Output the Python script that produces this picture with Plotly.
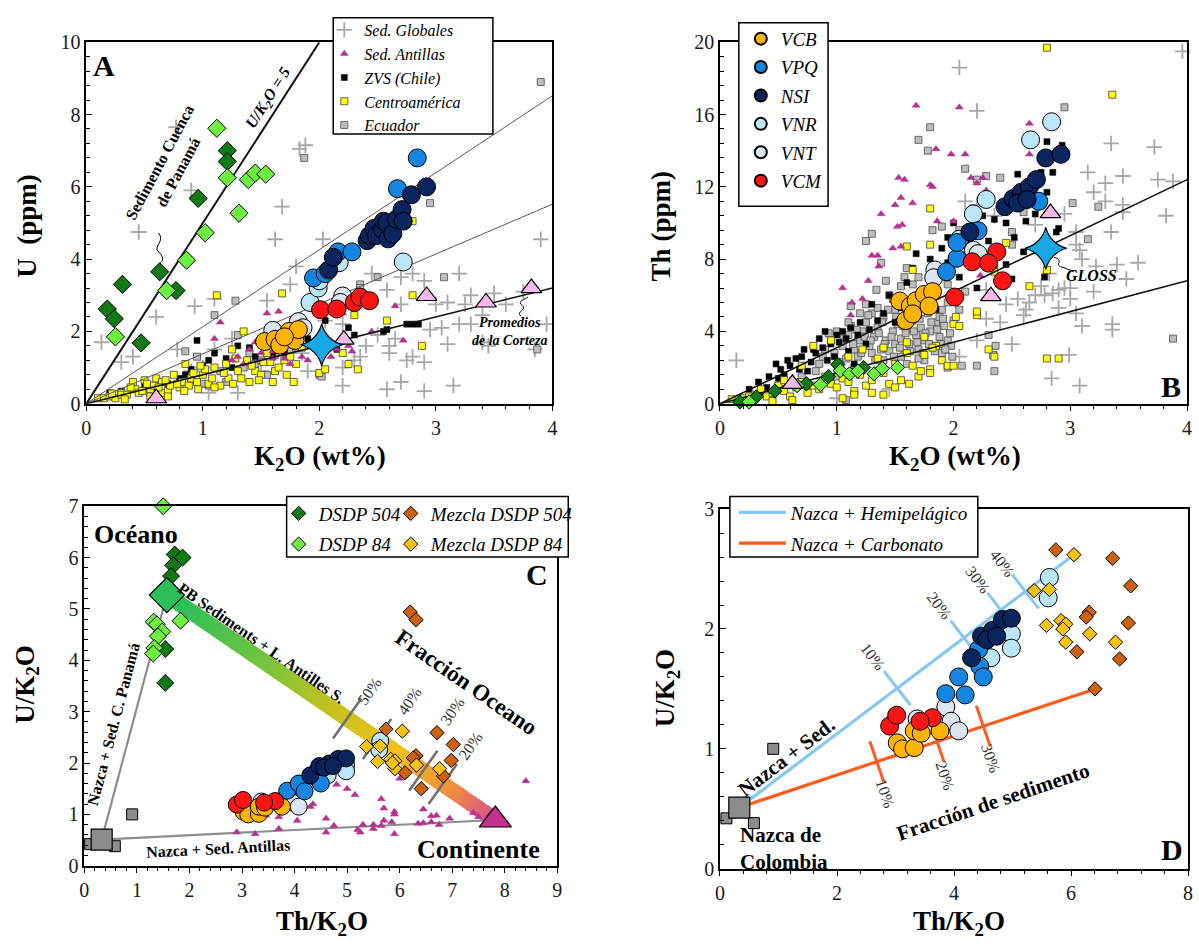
import numpy as np
import plotly.graph_objects as go

W, H = 1199, 949
SERIF = "Liberation Serif, Times New Roman, DejaVu Serif, serif"

# ---------------------------------------------------------------- data
# Panel A : K2O (wt%) vs U (ppm)
a_globales = [(0.13, 1.7), (0.3, 1.15), (0.4, 1.3), (0.45, 4.75), (0.6, 2.4), (0.77, 7.65), (0.78, 1.5),
              (0.93, 2.7), (0.9, 5.9), (1.0, 1.0), (1.1, 2.9), (1.05, 0.3), (1.3, 0.3), (1.5, 0.9), (1.55, 2.85),
              (1.62, 4.55), (1.68, 5.45), (1.75, 3.3), (1.8, 3.8), (1.83, 7.05), (1.88, 7.15), (1.85, 1.4),
              (1.9, 0.9), (2.03, 4.55), (2.05, 2.3), (2.2, 2.2), (2.2, 0.5), (2.3, 1.2), (2.4, 1.6), (2.45, 3.6),
              (2.5, 1.9), (2.58, 3.15), (2.58, 0.4), (2.6, 1.4), (2.6, 1.6), (2.7, 3.5), (2.7, 2.75), (2.7, 0.6),
              (2.75, 1.2), (2.8, 3.6), (2.8, 1.3), (2.9, 3.4), (2.9, 1.15), (2.9, 0.35), (3.0, 2.75), (3.1, 2.8),
              (3.1, 1.65), (3.15, 0.5), (3.2, 3.6), (3.2, 2.2), (3.25, 2.75), (3.3, 3.0), (3.3, 2.2), (3.4, 2.45),
              (3.4, 1.7), (3.45, 1.6), (3.5, 3.05), (3.6, 2.75), (3.75, 3.1), (3.85, 1.5), (3.9, 4.55), (3.95, 2.2),
              (1.1, 1.5), (1.25, 1.8), (0.9, 0.9), (2.95, 2.05), (3.05, 2.1), (2.65, 1.8), (2.2, 1.0), (2.35, 1.3)]
a_antillas = [(1.1, 1.8), (1.15, 2.25), (1.25, 1.2), (1.3, 1.3), (1.35, 1.1), (1.4, 1.5), (1.45, 1.7), (1.5, 1.4),
              (1.55, 2.5), (1.6, 1.45), (1.6, 1.25), (1.65, 2.55), (1.7, 1.25), (1.72, 1.6), (1.75, 1.1), (1.8, 1.7),
              (1.85, 1.3), (1.9, 1.2), (1.95, 1.6), (2.05, 1.8), (2.05, 1.9), (2.1, 1.3), (2.15, 1.5), (2.15, 2.85),
              (2.2, 2.5), (2.25, 1.6), (2.28, 1.45), (2.45, 2.0), (2.65, 2.7), (2.72, 1.75)]
a_zvs = [(0.2, 0.3), (0.3, 0.35), (0.5, 0.5), (0.6, 0.4), (0.7, 0.55), (0.8, 0.7), (0.85, 0.8), (0.9, 0.95),
         (0.95, 1.75), (1.0, 1.05), (1.05, 1.2), (1.1, 1.4), (1.2, 1.25), (1.25, 1.0), (1.3, 1.6), (1.4, 1.55),
         (1.45, 1.3), (1.55, 1.7), (1.6, 1.35), (1.7, 1.4), (1.9, 1.8), (2.05, 2.3), (2.15, 1.5), (2.25, 2.1),
         (2.3, 1.9), (2.55, 2.0), (2.58, 2.05), (2.75, 2.2), (2.8, 2.2), (2.85, 2.2)]
a_centro = [(0.1, 0.15), (0.15, 0.15), (0.2, 0.2), (0.25, 0.15), (0.3, 0.3), (0.3, 0.25), (0.35, 0.25), (0.4, 0.6),
            (0.42, 0.4), (0.45, 0.3), (0.5, 0.65), (0.55, 0.4), (0.55, 0.2), (0.58, 0.5), (0.6, 0.7), (0.65, 0.6),
            (0.65, 0.3), (0.7, 0.35), (0.72, 0.5), (0.75, 0.8), (0.8, 0.45), (0.82, 0.6), (0.85, 1.1), (0.88, 0.5),
            (0.9, 0.7), (0.92, 0.85), (0.95, 0.6), (1.0, 0.8), (1.02, 0.95), (1.05, 0.55), (1.08, 0.7), (1.1, 1.0),
            (1.12, 3.0), (1.15, 0.5), (1.2, 1.1), (1.22, 0.7), (1.25, 1.5), (1.3, 0.9), (1.35, 2.0), (1.38, 1.2),
            (1.4, 0.6), (1.45, 0.9), (1.5, 0.8), (1.55, 1.4), (1.6, 0.6), (1.62, 0.9), (1.68, 3.05), (1.7, 1.2),
            (1.72, 0.8), (1.78, 0.6), (1.8, 1.1), (1.85, 1.55), (2.0, 0.85), (2.05, 0.95), (2.2, 1.4), (2.25, 1.1),
            (2.3, 2.45), (2.33, 0.95), (2.58, 2.3), (2.8, 5.05), (2.8, 3.0), (2.88, 1.6), (0.38, 0.45), (0.48, 0.35),
            (0.68, 0.65), (0.78, 0.55), (0.98, 1.05), (1.18, 0.85), (1.28, 1.25), (1.42, 1.05), (1.52, 1.15),
            (1.65, 1.0), (1.75, 1.3), (1.1, 0.45), (0.62, 0.45), (0.22, 0.28), (0.33, 0.12), (0.52, 0.55),
            (0.7, 0.2), (0.84, 0.35), (0.96, 0.4), (1.26, 0.55), (1.33, 0.7), (1.48, 0.65), (1.58, 1.15)]
a_ecuador = [(0.55, 0.3), (0.85, 1.45), (0.9, 0.7), (0.95, 1.3), (1.0, 0.55), (1.05, 0.5), (1.1, 2.45), (1.15, 0.9),
             (1.2, 0.6), (1.28, 2.85), (1.3, 1.9), (1.35, 1.0), (1.4, 1.4), (1.45, 1.1), (1.5, 1.2), (1.55, 0.8),
             (1.62, 1.35), (1.7, 1.6), (1.75, 1.5), (1.8, 1.55), (1.87, 6.8), (2.0, 0.8), (2.02, 0.75), (2.35, 3.3),
             (2.35, 3.2), (2.5, 3.5), (2.95, 5.55), (3.07, 3.5), (3.87, 1.5), (3.9, 8.9)]
a_dsdp504 = [(0.18, 2.62), (0.24, 2.35), (0.31, 3.3), (0.47, 1.68), (0.63, 3.65), (0.77, 3.13), (0.96, 5.68),
             (1.21, 7.0), (1.21, 6.7)]
a_dsdp84 = [(0.25, 1.85), (0.69, 3.13), (0.86, 3.97), (1.02, 4.73), (1.12, 7.62), (1.21, 6.25), (1.31, 5.27),
            (1.39, 6.2), (1.45, 6.38), (1.54, 6.35)]
a_volc = {
    "VNT": [(1.6, 2.03), (1.82, 2.27), (1.86, 2.1), (2.2, 2.98), (2.18, 2.8)],
    "VNR": [(1.92, 2.8), (1.99, 3.2), (2.0, 3.4), (2.17, 3.9), (2.72, 3.92)],
    "VCB": [(1.53, 1.72), (1.62, 1.78), (1.66, 1.62), (1.74, 2.0), (1.79, 1.75), (1.82, 2.05), (1.7, 1.85)],
    "VPQ": [(1.95, 3.48), (2.05, 3.6), (2.16, 4.2), (2.28, 4.2), (2.67, 5.95), (2.84, 6.8)],
    "NSI": [(2.08, 3.7), (2.12, 4.05), (2.41, 4.51), (2.43, 4.65), (2.47, 4.85), (2.49, 4.65), (2.54, 4.83),
            (2.55, 5.05), (2.58, 5.0), (2.59, 4.56), (2.63, 4.7), (2.66, 5.1), (2.71, 5.37), (2.72, 5.05),
            (2.79, 5.78), (2.92, 6.0)],
    "VCM": [(2.01, 2.6), (2.15, 2.62), (2.3, 2.8), (2.35, 2.95), (2.43, 2.85)],
}
a_crust = [(0.6, 0.15), (2.21, 1.77), (2.92, 2.98), (3.43, 2.8), (3.82, 3.2)]
a_gloss = [(2.02, 1.63)]
a_ratios = [5.0, 2.13, 1.38, 0.8]          # U/K2O reference lines

# Panel B : K2O (wt%) vs Th (ppm)
b_globales = [(0.14, 2.4), (1.0, 0.3), (1.45, 0.8), (2.05, 18.6), (2.2, 16.2), (2.28, 6.3), (2.1, 11.2), (2.2, 11.0),
              (2.35, 10.4), (2.6, 4.9), (2.55, 5.8), (2.62, 5.2), (2.7, 6.0), (2.75, 6.5), (2.82, 7.2), (2.85, 6.1),
              (2.9, 5.3), (2.95, 6.4), (3.0, 6.4), (3.05, 5.0), (3.05, 9.5), (3.08, 8.5), (3.1, 4.3), (3.15, 12.8),
              (3.2, 11.7), (3.22, 7.6), (3.3, 12.2), (3.3, 11.2), (3.35, 14.4), (3.35, 9.5), (3.36, 4.1), (3.4, 7.7),
              (3.45, 12.6), (3.45, 10.6), (3.48, 6.9), (3.58, 7.8), (3.72, 14.2), (3.75, 12.4), (3.82, 10.4),
              (3.88, 12.3), (3.96, 19.5), (2.84, 1.4), (3.08, 1.0), (2.99, 2.7), (2.5, 3.3), (2.4, 4.5), (2.28, 4.7),
              (2.2, 3.5), (2.05, 2.6), (1.9, 2.8), (2.95, 10.5), (3.05, 8.8), (3.1, 8.0), (2.7, 9.9), (3.45, 11.0),
              (2.45, 5.5), (2.9, 6.3), (2.78, 6.0), (3.2, 6.2), (3.36, 4.4), (3.0, 5.8), (2.65, 5.6)]
b_antillas = [(1.05, 6.4), (1.12, 4.9), (1.13, 5.6), (1.22, 5.8), (1.27, 6.8), (1.3, 8.2), (1.36, 7.6), (1.35, 8.2),
              (1.38, 10.5), (1.48, 8.6), (1.5, 11.0), (1.53, 12.5), (1.55, 11.4), (1.52, 9.8), (1.56, 9.9),
              (1.58, 12.4), (1.55, 8.7), (1.65, 11.1), (1.68, 16.5), (1.8, 12.1), (1.82, 12.0), (1.85, 14.1),
              (1.86, 10.1), (1.98, 13.8), (2.05, 16.4), (2.1, 13.8), (2.15, 12.5), (2.2, 12.2), (2.25, 12.5),
              (2.28, 11.8), (2.65, 15.5), (2.65, 13.8), (2.23, 7.1), (2.0, 10.1)]
b_zvs = [(0.2, 0.3), (0.33, 1.2), (0.48, 2.2), (0.55, 1.6), (0.6, 2.1), (0.7, 2.6), (0.8, 3.0), (0.85, 3.6),
         (0.9, 4.0), (0.95, 3.3), (1.0, 3.8), (1.05, 4.0), (1.1, 2.9), (1.2, 4.5), (1.3, 5.5), (1.45, 6.0),
         (1.5, 4.5), (1.6, 6.7), (1.65, 7.5), (1.68, 8.3), (1.8, 8.0), (1.82, 7.2), (1.9, 8.6), (1.95, 9.2),
         (2.0, 10.0), (2.12, 9.0), (2.18, 8.1), (2.25, 10.4), (2.35, 10.2), (2.4, 8.3), (2.52, 9.2), (2.55, 12.7),
         (2.62, 10.1), (2.75, 12.8), (2.8, 11.7), (2.8, 14.5), (2.85, 12.8), (2.93, 14.3), (2.9, 9.7), (2.88, 9.5),
         (2.6, 8.4), (2.5, 6.9), (2.2, 6.4), (2.05, 7.0), (1.85, 5.2), (1.7, 4.9), (2.78, 7.0), (2.35, 7.5),
         (2.45, 7.7), (0.4, 0.9), (0.65, 2.5), (0.75, 1.8), (1.15, 2.2), (1.35, 4.6), (2.65, 11.4), (2.7, 10.5),
         (0.5, 1.4), (0.62, 1.0), (0.92, 2.4), (1.25, 3.3), (0.25, 0.8), (0.35, 0.6), (0.42, 1.5), (0.52, 1.9),
         (0.58, 2.4), (0.68, 1.9), (0.72, 3.0), (0.78, 2.3), (0.82, 2.8), (0.88, 3.1), (0.98, 2.6), (1.02, 3.4),
         (1.08, 3.6), (1.12, 4.2), (1.18, 3.8), (1.28, 4.1), (1.4, 5.0), (1.55, 5.3), (1.75, 6.2), (1.95, 7.8),
         (2.3, 9.0), (2.45, 10.0)]
b_centro = [(0.1, 0.25), (0.2, 0.3), (0.3, 0.5), (0.35, 0.8), (0.4, 0.4), (0.45, 0.6), (0.5, 1.0), (0.55, 0.7),
            (0.6, 0.4), (0.65, 0.9), (0.7, 1.2), (0.75, 0.6), (0.8, 1.0), (0.85, 0.8), (0.9, 1.5), (0.95, 1.1),
            (1.0, 0.9), (1.05, 1.4), (1.1, 1.2), (1.15, 0.7), (1.2, 1.6), (1.25, 1.0), (1.3, 1.3), (1.35, 2.5),
            (1.4, 1.7), (1.45, 1.1), (1.5, 2.2), (1.55, 1.3), (1.6, 2.8), (1.65, 2.1), (1.7, 1.5), (1.75, 2.7),
            (1.8, 1.9), (1.85, 3.2), (1.9, 2.4), (1.95, 2.1), (2.0, 2.1), (1.8, 1.7), (1.72, 1.8), (0.8, 3.2),
            (0.95, 3.5), (1.1, 2.6), (1.22, 3.0), (1.4, 3.1), (1.6, 3.4), (1.75, 3.7), (1.82, 3.1), (2.0, 4.4),
            (2.05, 4.3), (2.02, 4.8), (2.2, 4.9), (2.2, 5.1), (1.6, 8.7), (1.8, 8.8), (1.65, 7.4), (1.53, 5.5),
            (1.8, 10.8), (2.35, 7.3), (2.65, 6.5), (2.8, 7.4), (2.3, 3.0), (2.35, 2.6), (2.8, 2.5), (2.9, 2.5),
            (2.8, 19.7), (3.36, 17.1), (2.45, 8.9), (0.7, 2.1), (0.55, 1.3), (0.25, 0.4), (0.62, 0.2), (0.45, 0.15),
            (1.05, 0.3), (1.15, 0.5), (1.3, 0.6), (1.5, 0.9), (1.62, 1.1), (1.4, 0.5)]
b_ecuador = [(0.85, 2.2), (0.9, 3.0), (0.95, 3.5), (0.98, 2.8), (1.0, 4.0), (1.05, 3.2), (1.08, 2.5), (1.1, 3.8),
             (1.12, 4.3), (1.15, 3.0), (1.18, 2.6), (1.2, 3.5), (1.22, 4.0), (1.25, 4.5), (1.28, 3.2), (1.3, 2.8),
             (1.32, 3.7), (1.35, 4.2), (1.38, 3.0), (1.4, 4.8), (1.42, 3.5), (1.45, 2.9), (1.48, 4.0), (1.5, 3.3),
             (1.52, 4.4), (1.55, 3.6), (1.58, 2.8), (1.6, 4.1), (1.62, 3.3), (1.65, 4.6), (1.68, 3.8), (1.7, 3.0),
             (1.72, 4.2), (1.75, 3.5), (1.78, 5.0), (1.8, 4.0), (1.82, 3.2), (1.85, 4.5), (1.88, 3.7), (1.9, 5.2),
             (1.92, 4.3), (1.95, 3.5), (1.3, 5.0), (1.35, 5.3), (1.45, 6.0), (1.55, 6.5), (1.25, 5.5), (1.2, 5.0),
             (1.6, 7.5), (1.65, 6.6), (1.7, 7.0), (1.25, 9.0), (1.3, 9.4), (1.38, 7.8), (1.82, 9.6), (1.78, 14.0),
             (1.8, 15.3), (1.7, 14.6), (2.05, 9.6), (2.1, 13.0), (2.2, 12.4), (2.28, 12.6), (2.4, 12.5), (2.5, 8.8),
             (2.95, 16.4), (3.02, 11.1), (3.24, 10.9), (3.15, 9.1), (2.3, 3.8), (2.36, 3.2), (2.34, 2.7), (2.35, 1.8),
             (1.08, 0.2), (1.95, 2.0), (2.07, 2.1), (2.2, 2.1), (3.88, 3.6), (0.75, 1.0), (0.55, 0.8), (0.7, 1.5),
             (1.0, 1.5), (1.15, 2.0), (1.6, 2.2), (1.75, 2.4), (1.9, 2.8), (2.0, 4.6), (2.05, 5.2), (2.1, 6.2),
             (2.5, 9.5), (2.6, 10.6), (1.12, 5.4), (1.5, 5.2), (1.62, 5.6), (1.72, 5.4), (1.85, 6.0), (1.95, 6.6),
             (1.4, 2.4), (1.55, 2.6), (1.7, 2.5), (1.88, 4.8), (1.98, 3.2), (0.82, 1.8), (0.88, 2.6), (0.93, 3.9),
             (1.02, 2.3), (1.06, 3.6), (1.1, 4.5), (1.14, 3.3), (1.17, 4.1), (1.21, 2.8), (1.24, 3.7), (1.27, 4.9),
             (1.29, 3.5), (1.33, 2.4), (1.36, 3.9), (1.39, 4.5), (1.41, 3.3), (1.44, 5.2), (1.47, 3.7), (1.49, 2.6),
             (1.51, 4.8), (1.54, 3.1), (1.57, 4.3), (1.59, 3.9), (1.63, 2.9), (1.66, 4.0), (1.69, 3.4), (1.71, 4.7),
             (1.74, 2.8), (1.76, 3.9), (1.79, 3.3), (1.81, 4.5), (1.84, 2.9), (1.86, 4.1), (1.89, 3.3), (1.91, 4.7),
             (1.93, 3.0), (1.97, 3.9), (1.99, 2.6), (1.34, 6.3), (1.42, 6.8), (1.58, 7.0), (1.48, 5.8), (1.95, 5.6),
             (1.9, 9.8), (2.1, 8.2)]
b_dsdp504 = [(0.17, 0.1), (0.31, 0.38), (0.47, 0.7), (0.74, 1.1), (0.93, 1.5), (1.01, 2.17), (1.23, 2.0)]
b_dsdp84 = [(0.25, 0.1), (0.66, 1.0), (0.86, 1.05), (1.03, 1.83), (1.11, 1.65), (1.18, 1.8), (1.32, 1.65),
            (1.39, 1.95), (1.52, 2.0)]
b_volc = {
    "VNT": [(1.84, 7.4), (1.83, 6.97), (2.17, 8.49), (2.21, 8.3)],
    "VNR": [(2.17, 10.5), (2.28, 11.3), (2.66, 14.6), (2.84, 15.6), (2.05, 9.1)],
    "VCB": [(1.59, 4.6), (1.54, 5.68), (1.63, 5.4), (1.68, 5.7), (1.75, 6.05), (1.82, 6.2), (1.79, 5.4),
            (1.65, 4.97)],
    "VPQ": [(1.94, 7.3), (2.03, 8.05), (2.03, 8.92), (2.21, 9.57), (2.73, 11.2)],
    "NSI": [(2.14, 9.5), (2.44, 10.9), (2.51, 11.35), (2.58, 11.7), (2.65, 12.0), (2.71, 12.4), (2.55, 11.1),
            (2.79, 13.6), (2.92, 13.8), (2.63, 11.3)],
    "VCM": [(2.01, 5.9), (2.16, 7.85), (2.37, 8.4), (2.3, 7.78), (2.42, 6.8)],
}
b_crust = [(0.62, 1.1), (2.32, 5.95), (2.83, 10.55)]
b_gloss = [(2.79, 8.6)]
b_ratios = [3.1, 1.7]                        # Th/K2O reference lines

# Panels C and D : Th/K2O vs U/K2O
c_antillas = [(2.9, 0.65), (3.25, 0.62), (3.45, 0.98), (3.7, 0.72), (3.7, 0.95), (4.05, 0.88), (4.3, 1.15),
              (4.35, 1.2), (4.6, 0.92), (4.75, 0.78), (4.6, 0.65), (4.8, 1.58), (4.9, 1.85), (5.0, 1.5), (5.15, 1.38),
              (5.2, 0.7), (5.25, 0.65), (5.3, 0.8), (5.5, 0.72), (5.5, 0.8), (5.65, 1.3), (5.65, 0.78), (5.7, 1.12),
              (5.7, 0.88), (5.85, 0.85), (5.9, 1.05), (5.9, 1.0), (5.9, 0.62), (6.0, 1.7), (6.35, 0.82), (6.45, 1.1),
              (6.45, 0.83), (6.6, 0.85), (6.6, 0.97), (6.7, 0.98), (6.75, 0.8), (6.95, 0.92), (7.4, 1.03),
              (7.5, 0.95), (7.7, 0.98), (8.4, 1.65)]
c_dsdp504 = [(1.72, 6.06), (1.87, 6.0), (1.69, 5.85), (1.65, 5.64), (1.54, 4.22), (1.54, 3.56)]
c_dsdp84 = [(1.5, 7.0), (1.32, 4.75), (1.38, 4.7), (1.48, 4.56), (1.4, 4.47), (1.33, 4.24), (1.31, 4.13),
            (1.83, 4.77)]
mix504 = [(5.74, 2.66), (6.71, 2.59), (7.02, 2.36), (6.31, 2.14), (6.26, 2.1), (6.98, 2.05), (6.1, 1.81),
          (6.83, 1.75), (6.41, 1.5)]
mix504_high = [(6.2, 4.94), (6.31, 4.79)]    # off the D scale
mix84 = [(6.05, 2.62), (5.37, 2.32), (5.63, 2.33), (5.83, 2.07), (5.58, 2.03), (5.91, 2.04), (5.91, 1.89),
         (6.32, 1.96), (6.76, 1.89), (5.86, 2.0)]
cd_volc = {
    "VNT": [(3.37, 1.25), (3.86, 1.35), (3.95, 1.23), (4.08, 1.15)],
    "VNR": [(4.98, 1.96), (4.98, 1.84), (5.63, 2.43), (5.61, 2.26), (4.63, 1.76)],
    "VCM": [(2.9, 1.19), (3.02, 1.28), (3.63, 1.26), (3.42, 1.23)],
    "VCB": [(3.03, 1.05), (3.12, 1.0), (3.32, 1.01), (3.32, 1.15), (3.44, 1.13), (3.76, 1.15)],
    "VPQ": [(3.86, 1.46), (4.08, 1.6), (4.19, 1.45), (4.42, 1.83), (4.44, 1.69), (4.5, 1.6)],
    "NSI": [(4.3, 1.76), (4.47, 1.94), (4.66, 1.99), (4.83, 2.08), (4.98, 2.09), (4.56, 1.91), (4.73, 1.94)],
}
nazca_mean = (0.33, 0.51)
nazca_samples = [(0.11, 0.42), (0.58, 0.38), (0.91, 1.0)]
ocean_end = (1.57, 5.27)                     # PB sediments + Lesser Antilles mean
continent_end = (7.82, 0.89)
# mixing ticks: position on the Th/K2O axis, label, label anchor
c_pct = [(5.0, "50%", (5.42, 3.39)), (5.57, "40%", (6.18, 3.2)), (6.45, "30%", (7.0, 3.0)),
         (6.82, "20%", (7.34, 2.32))]
hemi_end = (6.05, 2.62)
carb_end = (6.41, 1.5)
d_hemi_pct = [(3.03, "10%", (2.61, 1.77)), (4.17, "20%", (3.75, 2.2)), (4.8, "30%", (4.4, 2.41)),
              (5.22, "40%", (4.83, 2.55))]
d_carb_pct = [(2.68, "10%", (2.83, 0.63)), (3.71, "20%", (3.85, 0.78)), (4.5, "30%", (4.63, 0.92))]

# ---------------------------------------------------------------- styling
COL = dict(glob="#A8A8A8", antillas="#B3338F", zvs="#000000", centro="#FFFF00", ecuador="#BDBDBD",
           d504="#0F7A14", d84="#6CF23E", m504="#CC6209", m84="#FFC20E",
           VCB="#FFB400", VPQ="#1585E2", NSI="#0A245E", VNR="#BCE7FA", VNT="#DCE6F2", VCM="#FF1414",
           crust="#F7B9E9", gloss="#17A9E6", nazca="#8C8C8C", hemi="#86C8F2", carb="#FF5B1F", tick="#707070")
VOLC_ORDER = ["VCB", "VPQ", "NSI", "VNR", "VNT", "VCM"]

# plot areas in pixels: left, right, top, bottom
BOX = {"A": (82, 552, 32, 402), "B": (721, 1192, 32, 402), "C": (80, 557, 507, 875), "D": (721, 1193, 510, 878)}
RNG = {"A": ((0, 4), (0, 10)), "B": ((0, 4), (0, 20)), "C": ((0, 9), (0, 7)), "D": ((0, 8), (0, 3))}
AX = {"A": ("x", "y"), "B": ("x2", "y2"), "C": ("x3", "y3"), "D": ("x4", "y4")}


def scale(p):
    l, r, t, b = BOX[p]
    (x0, x1), (y0, y1) = RNG[p]
    return (r - l) / (x1 - x0), (b - t) / (y1 - y0)


fig = go.Figure()


def cols(data):
    return [d[0] for d in data], [d[1] for d in data]


def markers(p, data, name, symbol, size, fill, edge="black", ew=1.0, legend=None, rank=1000):
    xs, ys = cols(data)
    xa, ya = AX[p]
    fig.add_trace(go.Scatter(
        x=xs, y=ys, xaxis=xa, yaxis=ya, mode="markers", name=name,
        marker=dict(symbol=symbol, size=size, color=fill, line=dict(color=edge, width=ew)),
        showlegend=legend is not None, legend=legend or "legend", legendrank=rank, legendgroup=name,
        cliponaxis=False, hoverinfo="skip"))


def segment(p, a, b, color, width, name=None, legend=None, rank=1000):
    xa, ya = AX[p]
    fig.add_trace(go.Scatter(
        x=[a[0], b[0]], y=[a[1], b[1]], xaxis=xa, yaxis=ya, mode="lines", name=name,
        line=dict(color=color, width=width), showlegend=legend is not None, legend=legend or "legend",
        legendrank=rank, legendgroup=name, cliponaxis=True, hoverinfo="skip"))


def ratio_line(p, slope, color, width):
    (x0, x1), (y0, y1) = RNG[p]
    xe = min(x1, y1 / slope)
    segment(p, (0, 0), (xe, slope * xe), color, width)


def background(p, glob, ant, zvs, cen, ecu, leg):
    markers(p, glob, "<i>Sed. Globales</i>", "cross-thin", 11, COL["glob"], COL["glob"], 1.8,
            legend=leg, rank=1)
    markers(p, ecu, "<i>Ecuador</i>", "square", 7, COL["ecuador"], "#4d4d4d", 0.8, legend=leg, rank=5)
    markers(p, zvs, "<i>ZVS (Chile)</i>", "square", 6, COL["zvs"], "#000000", 0.5, legend=leg, rank=3)
    markers(p, cen, "<i>Centroamérica</i>", "square", 7, COL["centro"], "#3d3d3d", 0.8, legend=leg, rank=4)
    markers(p, ant, "<i>Sed. Antillas</i>", "triangle-up", 7, COL["antillas"], COL["antillas"], 0.5,
            legend=leg, rank=2)


def volcanic(p, groups, size, leg=None):
    for key in ["VNT", "VNR", "VCB", "VPQ", "NSI", "VCM"]:
        markers(p, groups[key], f"<i>{key}</i>", "circle", size, COL[key], "black", 1.0,
                legend=leg, rank=VOLC_ORDER.index(key) + 1)


# ---- Panel A
background("A", a_globales, a_antillas, a_zvs, a_centro, a_ecuador, "legend")
ratio_line("A", a_ratios[1], "#5a5a5a", 1)
ratio_line("A", a_ratios[2], "#5a5a5a", 1)
ratio_line("A", a_ratios[3], "#111111", 1.6)
ratio_line("A", a_ratios[0], "#111111", 2)
markers("A", a_dsdp504, "DSDP 504 A", "diamond", 14, COL["d504"])
markers("A", a_dsdp84, "DSDP 84 A", "diamond", 14, COL["d84"])
volcanic("A", a_volc, 18)
markers("A", a_crust, "Corteza A", "triangle-up", 18, COL["crust"], "black", 1.2)
markers("A", a_gloss, "GLOSS A", "star-diamond", 30, COL["gloss"], "black", 1.2)

# ---- Panel B
background("B", b_globales, b_antillas, b_zvs, b_centro, b_ecuador, None)
for s in b_ratios:
    ratio_line("B", s, "#111111", 1.6)
markers("B", b_dsdp504, "<i>DSDP 504</i>", "diamond", 11, COL["d504"], legend="legend3", rank=1)
markers("B", b_dsdp84, "<i>DSDP 84</i>", "diamond", 11, COL["d84"], legend="legend3", rank=2)
volcanic("B", b_volc, 18, leg="legend2")
markers("B", b_crust, "Corteza B", "triangle-up", 18, COL["crust"], "black", 1.2)
markers("B", b_gloss, "GLOSS B", "star-diamond", 30, COL["gloss"], "black", 1.2)

# ---- Panel C
segment("C", nazca_mean, ocean_end, COL["nazca"], 2.2)
segment("C", nazca_mean, continent_end, COL["nazca"], 2.2)

# colour band between the oceanic and continental end-members
stops = [(0.0, (31, 191, 95)), (0.3, (118, 196, 62)), (0.5, (196, 194, 30)), (0.7, (242, 194, 26)),
         (0.86, (242, 145, 58)), (1.0, (214, 76, 150))]


def ramp(t):
    for (t0, c0), (t1, c1) in zip(stops[:-1], stops[1:]):
        if t <= t1:
            f = (t - t0) / (t1 - t0)
            return "rgb(%d,%d,%d)" % tuple(int(round(a + (b - a) * f)) for a, b in zip(c0, c1))
    return "rgb(%d,%d,%d)" % stops[-1][1]


o = np.array(ocean_end, float)
c = np.array(continent_end, float)
ts = np.linspace(0, 1, 81)
for t0, t1 in zip(ts[:-1], ts[1:]):
    segment("C", o + (c - o) * t0, o + (c - o) * min(1.0, t1 + 0.004), ramp((t0 + t1) / 2), 16)


def tick_geom(p, a, b, xc, half):
    sx, sy = scale(p)
    a = np.array(a, float)
    b = np.array(b, float)
    d = (b - a) * [sx, sy]
    u = d / np.hypot(*d)
    perp = np.array([-u[1], u[0]])
    t = (xc - a[0]) / (b[0] - a[0])
    ctr = a + (b - a) * t
    off = perp * half / [sx, sy]
    ang = np.degrees(np.arctan2(d[1], d[0]))
    return ctr, off, ang


annotations = []


def note(p, x, y, text, size, angle=0, color="black", xanchor="center", align="center"):
    xa, ya = AX[p]
    annotations.append(dict(x=x, y=y, xref=xa, yref=ya, text=text, showarrow=False, textangle=angle,
                            xanchor=xanchor, yanchor="middle", align=align,
                            font=dict(family=SERIF, size=size, color=color)))


for xc, lab, pos in c_pct:
    ctr, off, ang = tick_geom("C", ocean_end, continent_end, xc, 25)
    segment("C", ctr - off, ctr + off, COL["tick"], 2.6)
    note("C", pos[0], pos[1], lab, 16, angle=-(90 + ang), color="#333333")

markers("C", c_antillas, "Antillas C", "triangle-up", 7, COL["antillas"], COL["antillas"], 0.5)
volcanic("C", cd_volc, 17)
markers("C", mix504 + mix504_high, "<i>Mezcla DSDP 504</i>", "diamond", 11, COL["m504"])
markers("C", mix84, "<i>Mezcla DSDP 84</i>", "diamond", 11, COL["m84"])
markers("C", c_dsdp504, "DSDP 504 C", "diamond", 13, COL["d504"])
markers("C", c_dsdp84, "DSDP 84 C", "diamond", 13, COL["d84"])
markers("C", nazca_samples, "Nazca C", "square", 11, COL["nazca"], "black", 1)
markers("C", [nazca_mean], "Nazca media C", "square", 21, COL["nazca"], "black", 1.2)
markers("C", [ocean_end], "Océano", "diamond", 27, "#2DBE5C", "black", 1.2)
markers("C", [continent_end], "Continente", "triangle-up", 28, "#C2328F", "black", 1.2)

# ---- Panel D
segment("D", nazca_mean, hemi_end, COL["hemi"], 3.2, name="<i>Nazca + Hemipelágico</i>", legend="legend5", rank=1)
segment("D", nazca_mean, carb_end, COL["carb"], 3.2, name="<i>Nazca + Carbonato</i>", legend="legend5", rank=2)
for xc, lab, pos in d_hemi_pct:
    ctr, off, ang = tick_geom("D", nazca_mean, hemi_end, xc, 22)
    segment("D", ctr - off, ctr + off, COL["hemi"], 3)
    note("D", pos[0], pos[1], lab, 16, angle=90 - ang, color="#333333")
for xc, lab, pos in d_carb_pct:
    ctr, off, ang = tick_geom("D", nazca_mean, carb_end, xc, 22)
    segment("D", ctr - off, ctr + off, COL["carb"], 3)
    note("D", pos[0], pos[1], lab, 16, angle=90 - ang, color="#333333")
volcanic("D", cd_volc, 18)
markers("D", mix504, "<i>Mezcla DSDP 504</i>", "diamond", 11, COL["m504"], legend="legend4", rank=1)
markers("D", mix84, "<i>Mezcla DSDP 84</i>", "diamond", 11, COL["m84"], legend="legend4", rank=2)
markers("D", nazca_samples, "Nazca D", "square", 11, COL["nazca"], "black", 1)
markers("D", [nazca_mean], "Nazca media D", "square", 21, COL["nazca"], "black", 1.2)

# ---------------------------------------------------------------- text
sxA, syA = scale("A")
angA = np.degrees(np.arctan(a_ratios[0] * syA / sxA))
note("A", 0.15, 9.35, "<b>A</b>", 30)
note("A", 1.56, 8.45, "<b><i>U/K<sub>2</sub>O = 5</i></b>", 16, angle=-angA)
note("A", 0.71, 6.55, "<b>Sedimento Cuenca<br>de Panamá</b>", 16, angle=-62)
note("A", 3.63, 2.0, "<b><i>Promedios<br>de la Corteza</i></b>", 14)
note("B", 3.18, 7.1, "<b><i>GLOSS</i></b>", 16)
note("B", 3.86, 0.95, "<b>B</b>", 30)

_, _, angC = tick_geom("C", ocean_end, continent_end, 3.0, 1)
_, _, angN1 = tick_geom("C", nazca_mean, ocean_end, 1.0, 1)
_, _, angN2 = tick_geom("C", nazca_mean, continent_end, 3.0, 1)
note("C", 0.98, 6.45, "<b>Océano</b>", 26)
note("C", 8.62, 5.67, "<b>C</b>", 30)
note("C", 7.5, 0.32, "<b>Continente</b>", 26)
note("C", 7.27, 3.57, "<b>Fracción Oceano</b>", 23, angle=-angC)
note("C", 3.38, 4.33, "<b>PB Sediments + L. Antilles S.</b>", 16, angle=-angC)
note("C", 0.55, 2.75, "<b>Nazca + Sed. C. Panamá</b>", 16, angle=-angN1)
note("C", 2.55, 0.34, "<b>Nazca + Sed. Antillas</b>", 16, angle=-angN2)

_, _, angH = tick_geom("D", nazca_mean, hemi_end, 2.0, 1)
_, _, angK = tick_geom("D", nazca_mean, carb_end, 2.0, 1)
note("D", 1.14, 0.93, "<b>Nazca + Sed.</b>", 21, angle=-angH)
note("D", 4.66, 0.56, "<b>Fracción de sedimento</b>", 21, angle=-angK)
note("D", 0.3, 0.17, "<b>Nazca de<br>Colombia</b>", 21, xanchor="left", align="left")
note("D", 7.73, 0.16, "<b>D</b>", 30)


def title(xp, yp, text, angle=0):
    annotations.append(dict(x=xp / W, y=1 - yp / H, xref="paper", yref="paper", text=text, showarrow=False,
                            textangle=angle, xanchor="center", yanchor="middle",
                            font=dict(family=SERIF, size=27, color="black")))


title(22, 220, "<b>U  (ppm)</b>", -90)
title(318, 458, "<b>K<sub>2</sub>O (wt%)</b>")
title(661, 220, "<b>Th (ppm)</b>", -90)
title(958, 458, "<b>K<sub>2</sub>O (wt%)</b>")
title(22, 690, "<b>U/K<sub>2</sub>O</b>", -90)
title(320, 934, "<b>Th/K<sub>2</sub>O</b>")
title(668, 693, "<b>U/K<sub>2</sub>O</b>", -90)
title(962, 934, "<b>Th/K<sub>2</sub>O</b>")

# ---------------------------------------------------------------- leader curves and legend frames
shapes = [
    dict(type="path", xref="x", yref="y", path="M 0.62 4.72 C 0.68 4.5, 0.57 4.35, 0.62 4.2 S 0.66 3.95, 0.63 3.88",
         line=dict(color="black", width=1)),
    dict(type="path", xref="x", yref="y", path="M 3.73 2.42 C 3.68 2.55, 3.79 2.6, 3.74 2.72 S 3.77 2.88, 3.79 2.95",
         line=dict(color="black", width=1)),
    dict(type="path", xref="x2", yref="y2", path="M 2.86 8.1 C 2.96 7.95, 2.85 7.7, 2.93 7.55 S 3.0 7.35, 3.03 7.3",
         line=dict(color="black", width=1)),
]
for l, t, r, b in [(331, 7, 492, 126), (740, 12, 830, 200), (284, 497, 568, 559), (731, 497, 981, 559)]:
    shapes.append(dict(type="rect", xref="paper", yref="paper", x0=l / W, x1=r / W, y0=1 - b / H, y1=1 - t / H,
                       fillcolor="white", line=dict(color="black", width=1.5), layer="above"))


def legend_at(xp, yp, size, gap=0, itemwidth=30, sizing="trace"):
    return dict(x=xp / W, y=1 - yp / H, xanchor="left", yanchor="top", xref="paper", yref="paper",
                bgcolor="rgba(0,0,0,0)", borderwidth=0, font=dict(family=SERIF, size=size, color="black"),
                tracegroupgap=gap, itemwidth=itemwidth, itemsizing=sizing, orientation="v")


def axis(p, dtick, minor, ticks, anchor):
    l, r, t, b = BOX[p]
    return dict(range=list(RNG[p][0 if ticks == "outside" else 1]),
                domain=[l / W, r / W] if ticks == "outside" else [1 - b / H, 1 - t / H],
                dtick=dtick, tick0=0, ticks=ticks, ticklen=6, tickwidth=1.2, tickcolor="black",
                minor=dict(dtick=minor, tick0=0, ticks=ticks, ticklen=4, tickwidth=1, tickcolor="black"),
                showline=True, linecolor="black", linewidth=1.5, mirror=True, showgrid=False, zeroline=False,
                tickfont=dict(family=SERIF, size=20, color="#1a1a1a"), anchor=anchor, fixedrange=True)


fig.update_layout(
    width=W, height=H, margin=dict(l=0, r=0, t=0, b=0), paper_bgcolor="white", plot_bgcolor="white",
    showlegend=True,
    xaxis=axis("A", 1, 0.2, "outside", "y"), yaxis=axis("A", 2, 0.4, "inside", "x"),
    xaxis2=axis("B", 1, 0.2, "outside", "y2"), yaxis2=axis("B", 4, 0.8, "inside", "x2"),
    xaxis3=axis("C", 1, 0.2, "outside", "y3"), yaxis3=axis("C", 1, 0.2, "inside", "x3"),
    xaxis4=axis("D", 2, 0.4, "outside", "y4"), yaxis4=axis("D", 1, 0.2, "inside", "x4"),
    legend=legend_at(322, 2, 16),
    legend2=legend_at(742, 9, 19, gap=0.7, sizing="constant"),
    legend3=legend_at(276, 495, 19, gap=3),
    legend4=legend_at(389, 495, 19, gap=3),
    legend5=legend_at(735, 494, 19, gap=3, itemwidth=47),
    annotations=annotations, shapes=shapes,
)

fig.write_html("out.html", post_script="document.body.style.margin='0';")
